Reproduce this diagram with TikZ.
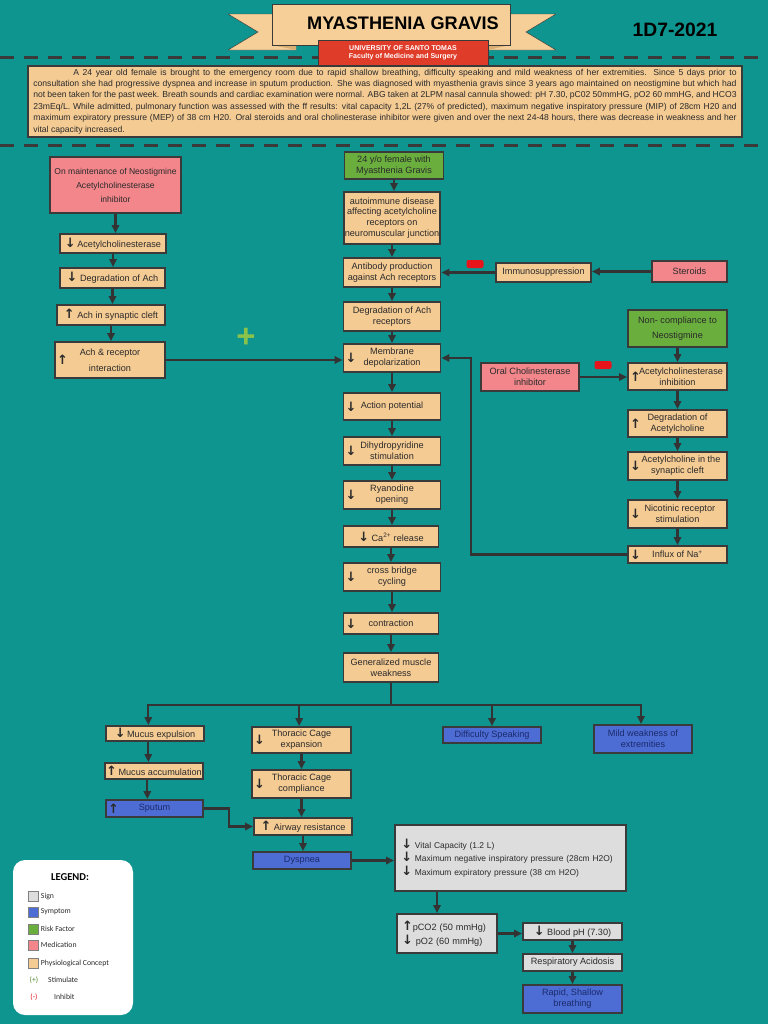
\documentclass[tikz,border=0pt]{standalone}
\usepackage{fontspec}
\setmainfont{Liberation Sans}
\newfontfamily\symfont{DejaVu Sans}
\newfontfamily\legfont{Carlito}
\usetikzlibrary{positioning,arrows.meta}

\definecolor{bgteal}{HTML}{0F9590}
\definecolor{tanbox}{HTML}{F5CB94}
\definecolor{pinkbox}{HTML}{F2868B}
\definecolor{greenbox}{HTML}{6AAE3E}
\definecolor{bluebox}{HTML}{4D6DD4}
\definecolor{greybox}{HTML}{DDDDDD}
\definecolor{edge}{HTML}{3A3A3A}
\definecolor{wire}{HTML}{333333}
\definecolor{ink}{HTML}{2A2A2A}
\definecolor{navy}{HTML}{1B2A6B}
\definecolor{inhred}{HTML}{E8141B}
\definecolor{stimgreen}{HTML}{8BC34A}
\definecolor{ribbon}{HTML}{F6CF98}
\definecolor{ribbondark}{HTML}{D9AE72}
\definecolor{unired}{HTML}{E03C2A}

\newcommand{\boxfont}{\fontsize{7.8}{9.2}\selectfont}
\newcommand{\dnar}{{\fontsize{11}{9}\symfont\bfseries ↓}}
\newcommand{\upar}{{\fontsize{11}{9}\symfont\bfseries ↑}}

\begin{document}
\begin{tikzpicture}[
    x=0.3mm, y=-0.3mm,
    box/.style={draw=edge, line width=1.6pt, fill=tanbox, text=ink,
        align=center, inner sep=1pt, font=\boxfont},
    sz/.style 2 args={minimum width=#1*0.3mm, minimum height=#2*0.3mm},
    med/.style={box, fill=pinkbox},
    risk/.style={box, fill=greenbox},
    symp/.style={box, fill=bluebox, text=navy},
    signbox/.style={box, fill=greybox},
    dnlbl/.style={label={[anchor=west, inner sep=2.5pt, text=ink]west:\dnar}},
    uplbl/.style={label={[anchor=west, inner sep=2.5pt, text=ink]west:\upar}},
    arrow/.style={-{Triangle[length=2.4mm, width=2.2mm]}, line width=1.8pt, draw=wire},
    link/.style={line width=1.8pt, draw=wire},
    minusbar/.style={fill=inhred, rounded corners=0.6mm, minimum width=17*0.3mm,
        minimum height=8*0.3mm, inner sep=0pt},
    plussign/.style={text=stimgreen, font=\fontsize{28}{28}\selectfont\bfseries, inner sep=0pt},
    sepline/.style={draw=edge, line width=0.9mm, dash pattern=on 4.2mm off 3mm},
    legsq/.style={draw=gray, line width=0.3pt, minimum size=10*0.3mm, inner sep=0pt},
    legtxt/.style={font=\legfont\fontsize{6.6}{7}\selectfont, inner sep=0.5pt, text=ink}
]

% background
\useasboundingbox (0,0) rectangle (768,1024);
\fill[bgteal] (0,0) rectangle (768,1024);

% dashed separators
\draw[sepline] (0,57) -- (768,57);
\draw[sepline] (0,145) -- (768,145);

% title ribbon
\filldraw[fill=ribbon, draw=edge, line width=0.4pt]
    (228,14) -- (296,14) -- (296,50) -- (228,50) -- (258,32) -- cycle;
\filldraw[fill=ribbon, draw=edge, line width=0.4pt]
    (556,14) -- (488,14) -- (488,50) -- (556,50) -- (526,32) -- cycle;
\fill[ribbondark] (272,45) -- (296,50) -- (296,45) -- cycle;
\fill[ribbondark] (510,45) -- (488,50) -- (488,45) -- cycle;
\filldraw[fill=ribbon, draw=edge, line width=0.4pt] (272,4) rectangle (510,45);
\node[font=\fontsize{15.5}{15}\selectfont\bfseries, text=black] (title) at (403,23) {MYASTHENIA GRAVIS};
\node[fill=unired, draw=edge, line width=0.4pt, sz={170}{26}, align=center, text=white,
    font=\fontsize{6}{7.2}\selectfont\bfseries, inner sep=0pt] (school) at (403,53)
    {UNIVERSITY OF SANTO TOMAS\\Faculty of Medicine and Surgery};
\node[font=\fontsize{16.5}{16}\selectfont\bfseries, text=black] (batch) at (675,30) {1D7-2021};

% case
\node[box, sz={714}{71}, line width=1.8pt, text width=211mm, align=justify, inner xsep=1.2mm,
    font=\fontsize{7.35}{9.8}\selectfont] (case) at (385,101.5)
{\hspace*{12mm}A 24 year old female is brought to the emergency room due to rapid shallow breathing, difficulty speaking and mild weakness of her extremities. Since 5 days prior to\linebreak
consultation she had progressive dyspnea and increase in sputum production. She was diagnosed with myasthenia gravis since 3 years ago maintained on neostigmine but which had\linebreak
not been taken for the past week. Breath sounds and cardiac examination were normal. ABG taken at 2LPM nasal cannula showed: pH 7.30, pC02 50mmHG, pO2 60 mmHG, and HCO3\linebreak
23mEq/L. While admitted, pulmonary function was assessed with the ff results: vital capacity 1,2L (27\% of predicted), maximum negative inspiratory pressure (MIP) of 28cm H20 and\linebreak
maximum expiratory pressure (MEP) of 38 cm H20. Oral steroids and oral cholinesterase inhibitor were given and over the next 24-48 hours, there was decrease in weakness and her\linebreak
vital capacity increased.};

% left column
\node[med, sz={131}{56}, font=\fontsize{7.3}{9}\selectfont] (neo) at (115.5,185) {On maintenance of Neostigmine\\[3pt]Acetylcholinesterase\\[3pt]inhibitor};
\node[box, sz={106}{19}] (ache) at (113,243.5) {\dnar\,Acetylcholinesterase};
\node[box, sz={105}{20}] (degach) at (112.5,278) {\dnar\ Degradation of Ach};
\node[box, sz={108}{20}] (achcleft) at (111,315) {\upar\ Ach in synaptic cleft};
\node[box, sz={110}{36}, uplbl] (achrec) at (110,360) {Ach \& receptor\\[4pt]interaction};

% centre column
\node[risk, sz={99}{27}] (female) at (394,165.5) {24 y/o female with\\Myasthenia Gravis};
\node[box, sz={96}{52}] (autoimm) at (392,218) {autoimmune disease\\affecting acetylcholine\\receptors on\\neuromuscular junction};
\node[box, sz={97}{29}] (antibody) at (392,272.5) {Antibody production\\against Ach receptors};
\node[box, sz={97}{29}] (degrec) at (392,316.5) {Degradation of Ach\\receptors};
\node[box, sz={97}{28}, dnlbl] (memb) at (392,358) {Membrane\\depolarization};
\node[box, sz={97}{27}, dnlbl] (actpot) at (392,406.5) {Action potential};
\node[box, sz={97}{28}, dnlbl] (dhp) at (392,451) {Dihydropyridine\\stimulation};
\node[box, sz={97}{28}, dnlbl] (rya) at (392,495) {Ryanodine\\opening};
\node[box, sz={95}{21}] (ca) at (391,536.5) {\dnar\ Ca\textsuperscript{2+} release};
\node[box, sz={97}{28}, dnlbl] (xbridge) at (392,577) {cross bridge\\cycling};
\node[box, sz={95}{21}, dnlbl] (contr) at (391,623.5) {contraction};
\node[box, sz={95}{29}] (genweak) at (391,667.5) {Generalized muscle\\weakness};

% right side
\node[med, sz={75}{21}] (steroids) at (689.5,271.5) {Steroids};
\node[box, sz={95}{19}] (immuno) at (543.5,272.5) {Immunosuppression};
\node[minusbar] (inh1) at (475,264) {};
\node[risk, sz={99}{37}] (noncomp) at (677.5,328.5) {Non- compliance to\\[3pt]Neostigmine};
\node[box, sz={99}{27}, uplbl] (acheinh) at (677.5,376.5) {\hspace{6pt}Acetylcholinesterase\\inhibition};
\node[box, sz={99}{27}, uplbl] (degacetyl) at (677.5,423.5) {Degradation of\\Acetylcholine};
\node[box, sz={99}{28}, dnlbl] (acetcleft) at (677.5,466) {\hspace{6pt}Acetylcholine in the\\synaptic cleft};
\node[box, sz={99}{28}, dnlbl] (nicotinic) at (677.5,514) {\hspace{4pt}Nicotinic receptor\\stimulation};
\node[box, sz={99}{17}, dnlbl] (influx) at (677.5,554.5) {Influx of Na\textsuperscript{+}};
\node[med, sz={98}{28}] (oral) at (530,377) {Oral Cholinesterase\\inhibitor};
\node[minusbar] (inh2) at (603,365) {};
\node[plussign] (stim1) at (246,338) {+};

% lower part
\node[box, sz={98}{15}] (mucexp) at (155,733.5) {\dnar\,Mucus expulsion};
\node[box, sz={96}{16}] (mucacc) at (154,771) {\upar\,Mucus accumulation};
\node[symp, sz={97}{17}, uplbl] (sputum) at (154.5,808.5) {Sputum};
\node[box, sz={99}{26}, dnlbl] (tcexp) at (301.5,740) {Thoracic Cage\\expansion};
\node[box, sz={99}{28}, dnlbl] (tccomp) at (301.5,784) {Thoracic Cage\\compliance};
\node[box, sz={98}{17}] (airway) at (303,826.5) {\upar\ Airway resistance};
\node[symp, sz={98}{17}] (dyspnea) at (302,860.5) {Dyspnea};
\node[symp, sz={98}{16}] (diffspeak) at (492,735) {Difficulty Speaking};
\node[symp, sz={98}{28}] (mildweak) at (643,739) {Mild weakness of\\extremities};
\node[signbox, sz={231}{66}, align=left, text width=65.5mm, inner xsep=1.5mm,
    font=\fontsize{7.2}{9}\selectfont] (pft) at (510.5,858)
    {\dnar\ Vital Capacity (1.2 L)\\[1pt]\dnar\ Maximum negative inspiratory pressure (28cm H2O)\\[1pt]\dnar\ Maximum expiratory pressure (38 cm H2O)\\[6pt]};
\node[signbox, sz={98}{39}, align=left, text width=27mm, inner xsep=1.5mm] (gas) at (447,933.5)
    {\upar pCO2 (50 mmHg)\\[1pt]\dnar\ pO2 (60 mmHg)};
\node[signbox, sz={99}{17}] (ph) at (572.5,931.5) {\dnar\ Blood pH (7.30)};
\node[signbox, sz={99}{17}] (acid) at (572.5,962.5) {Respiratory Acidosis};
\node[symp, sz={99}{28}] (rapid) at (572.5,999) {Rapid, Shallow\\breathing};

% vertical chains
\foreach \a/\b in {neo/ache, ache/degach, degach/achcleft, achcleft/achrec,
    female/autoimm, autoimm/antibody, antibody/degrec, degrec/memb, memb/actpot,
    actpot/dhp, dhp/rya, rya/ca, ca/xbridge, xbridge/contr, contr/genweak,
    noncomp/acheinh, acheinh/degacetyl, degacetyl/acetcleft, acetcleft/nicotinic,
    nicotinic/influx, tcexp/tccomp, tccomp/airway, airway/dyspnea, ph/acid, acid/rapid}
    \draw[arrow] (\a.south) -- (\a.south |- \b.north);
\foreach \a/\b in {mucexp/mucacc, mucacc/sputum}
    \draw[arrow] ([xshift=-2mm]\a.south) -- ([xshift=-2mm]\a.south |- \b.north);

% side links
\draw[arrow] (achrec.east) -- (achrec.east -| memb.west);
\draw[arrow] (steroids.west) -- (steroids.west -| immuno.east);
\draw[arrow] (immuno.west) -- (immuno.west -| antibody.east);
\draw[arrow] (oral.east) -- (oral.east -| acheinh.west);
\draw[arrow] (influx.west) -- ++(-156,0) |- (memb.east);

% branching of weakness
\coordinate (split) at (391,705);
\draw[link] (genweak.south) -- (split);
\draw[arrow] (split) -| ([xshift=-2mm]mucexp.north);
\draw[arrow] (split) -| ([xshift=-0.7mm]tcexp.north);
\draw[arrow] (split) -| (diffspeak.north);
\draw[arrow] (split) -| ([xshift=-0.6mm]mildweak.north);

\draw[arrow] (sputum.east) -- ++(25,0) |- (airway.west);
\draw[arrow] (dyspnea.east) -- (dyspnea.east -| pft.west);
\draw[arrow] ([xshift=-3mm]gas.north |- pft.south) -- ([xshift=-3mm]gas.north);
\draw[arrow] (gas.east) -- (gas.east -| ph.west);

% legend
\node[fill=white, rounded corners=3.6mm, sz={120}{155}] (legend) at (73,937.5) {};
\node[font=\legfont\fontsize{9}{9}\selectfont\bfseries, text=black] (legtitle) at (70,877) {LEGEND:};
\foreach \y/\c/\t in {896/greybox/Sign, 912/bluebox/Symptom, 929/greenbox/Risk Factor,
    945/pinkbox/Medication, 963/tanbox/Physiological Concept}
{
    \node[legsq, fill=\c] (sq\y) at (33,\y) {};
    \node[legtxt, anchor=west, right=0.6mm of sq\y] {\t};
}
\node[legtxt, text=greenbox!80!black] (stimkey) at (34,980) {(+)};
\node[legtxt, right=2.5mm of stimkey] {Stimulate};
\node[legtxt, text=inhred] (inhkey) at (34,997) {(-)};
\node[legtxt, right=4.5mm of inhkey] {Inhibit};

\end{tikzpicture}
\end{document}
